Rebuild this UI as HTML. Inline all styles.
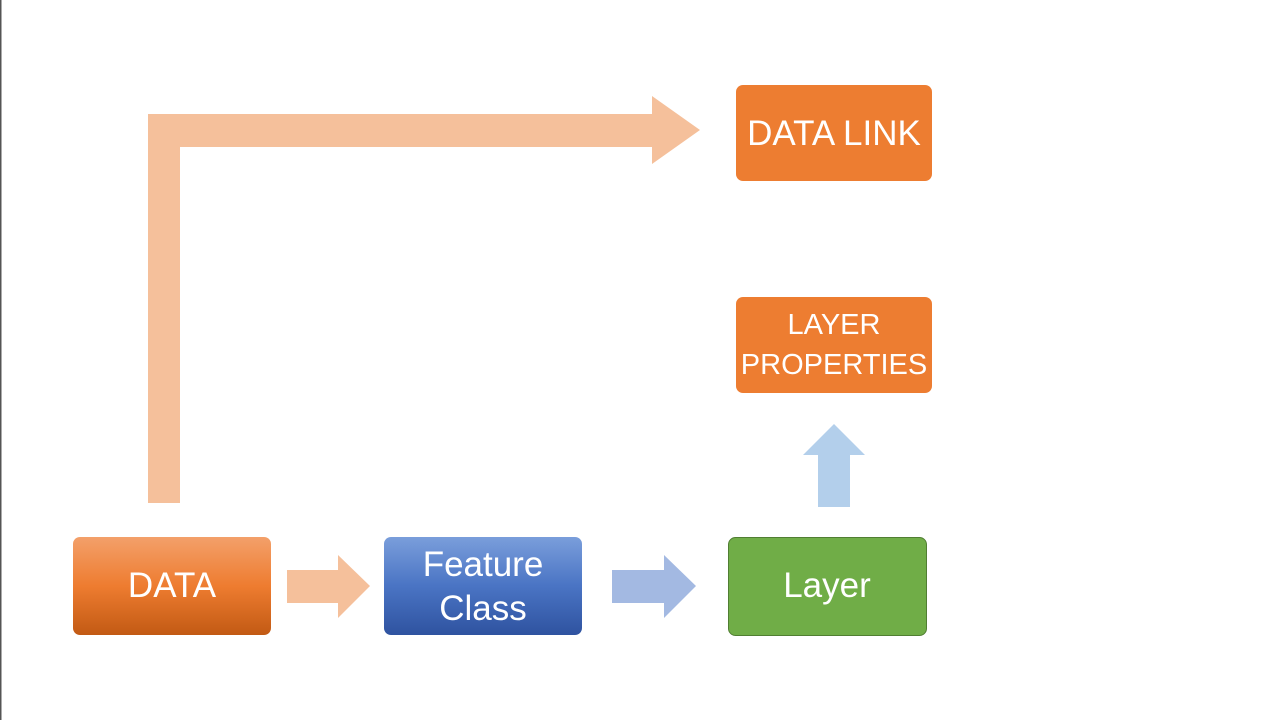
<!DOCTYPE html>
<html><head><meta charset="utf-8"><style>
html,body{margin:0;padding:0;background:#fff;}
body{width:1280px;height:720px;overflow:hidden;}
text{font-family:"Liberation Sans","DejaVu Sans",sans-serif;fill:#fff;}
</style></head><body>
<svg width="1280" height="720" viewBox="0 0 1280 720" xmlns="http://www.w3.org/2000/svg">
<defs>
<linearGradient id="og" x1="0" y1="0" x2="0" y2="1"><stop offset="0" stop-color="#F3A06A"/><stop offset="0.5" stop-color="#EE7C30"/><stop offset="1" stop-color="#C25A14"/></linearGradient>
<linearGradient id="bg" x1="0" y1="0" x2="0" y2="1"><stop offset="0" stop-color="#7A9EDB"/><stop offset="0.5" stop-color="#4A74C4"/><stop offset="1" stop-color="#2F53A0"/></linearGradient>
</defs>
<rect x="0" y="0" width="1.5" height="720" fill="#555"/>
<!-- L arrow -->
<path d="M148,503 L148,114 L652,114 L652,96 L700,130 L652,164 L652,147 L180,147 L180,503 Z" fill="#F5C09B"/>
<!-- boxes -->
<rect x="736" y="85" width="196" height="96" rx="7" fill="#ED7D31"/>
<text x="834" y="145" font-size="35" text-anchor="middle">DATA LINK</text>
<rect x="736" y="297" width="196" height="96" rx="7" fill="#ED7D31"/>
<text x="834" y="334" font-size="29" text-anchor="middle">LAYER</text>
<text x="834" y="374" font-size="29" text-anchor="middle">PROPERTIES</text>
<rect x="73" y="537" width="198" height="98" rx="7" fill="url(#og)"/>
<text x="172" y="597" font-size="35" text-anchor="middle">DATA</text>
<rect x="384" y="537" width="198" height="98" rx="7" fill="url(#bg)"/>
<text x="483" y="576" font-size="35" text-anchor="middle">Feature</text>
<text x="483" y="620" font-size="35" text-anchor="middle">Class</text>
<rect x="728.5" y="537.5" width="198" height="98" rx="7" fill="#70AD47" stroke="#507E32" stroke-width="1"/>
<text x="827" y="597" font-size="35" text-anchor="middle">Layer</text>
<!-- small arrows -->
<path d="M287,570 L338,570 L338,555 L370,586 L338,618 L338,603 L287,603 Z" fill="#F5C09B"/>
<path d="M612,570 L664,570 L664,555 L696,586 L664,618 L664,603 L612,603 Z" fill="#A3B9E2"/>
<path d="M818,507 L818,455 L803,455 L834,424 L865,455 L850,455 L850,507 Z" fill="#B3CFEB"/>
</svg>
</body></html>
